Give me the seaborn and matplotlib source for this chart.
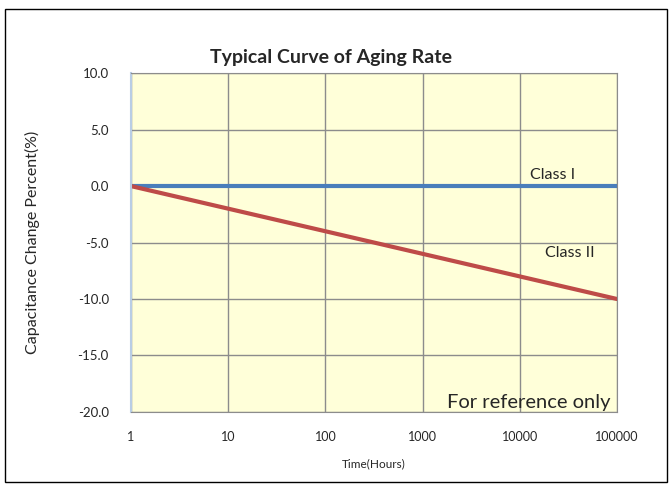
import numpy as np
import pandas as pd
import matplotlib
matplotlib.use("Agg")
import matplotlib.pyplot as plt
import seaborn as sns
from matplotlib.patches import Rectangle

# data
hours = [1, 10, 100, 1000, 10000, 100000]
class_1 = [0.0, 0.0, 0.0, 0.0, 0.0, 0.0]
class_2 = [0.0, -2.0, -4.0, -6.0, -8.0, -10.0]
y_ticks = [-20.0, -15.0, -10.0, -5.0, 0.0, 5.0, 10.0]

df = pd.DataFrame({
    "Time": hours * 2,
    "Change": class_1 + class_2,
    "Class": ["Class I"] * len(hours) + ["Class II"] * len(hours),
})

sns.set_style("white")
plt.rcParams["font.family"] = ["Lato", "DejaVu Sans"]

fig = plt.figure(figsize=(6.72, 4.88), dpi=100)
ax = fig.add_axes([0.195, 0.156, 0.723, 0.694])
ax.set_facecolor("#FFFFD9")

sns.lineplot(data=df, x="Time", y="Change", hue="Class",
             palette={"Class I": "#4A7EBB", "Class II": "#BE4B48"},
             linewidth=3, legend=False, ax=ax)

ax.set_xscale("log")
ax.set_xlim(1, 100000)
ax.set_ylim(-20, 10)
ax.set_xticks(hours)
ax.set_xticklabels([str(h) for h in hours], fontsize=9)
ax.set_yticks(y_ticks)
ax.set_yticklabels([f"{v:.1f}" for v in y_ticks], fontsize=9.5)
ax.minorticks_off()
ax.grid(True, color="#8C8C8C", linewidth=1)
ax.set_axisbelow(True)
for s in ["top", "right", "bottom"]:
    ax.spines[s].set_color("#8C8C8C")
ax.spines["left"].set_color("#B9CDE5")
ax.spines["left"].set_linewidth(1.5)
ax.tick_params(axis="x", length=0, pad=14)
ax.tick_params(axis="y", length=4, color="#B9CDE5", width=1.2, pad=12)

ax.set_xlabel("Time(Hours)", fontsize=8.5, labelpad=11)
ax.set_ylabel("Capacitance Change Percent(%)", fontsize=11.5, labelpad=27)

fig.text(0.493, 0.883, "Typical Curve of Aging Rate", fontsize=14, fontweight="bold",
         ha="center", va="center")

ax.text(1.27e4, 0.4, "Class I", fontsize=11.5, ha="left", va="bottom")
ax.text(1.8e4, -5.9, "Class II", fontsize=11.5, ha="left", va="center")
ax.text(8.5e4, -19.9, "For reference only", fontsize=14.5, ha="right", va="bottom")

fig.patches.append(Rectangle((0.008, 0.012), 0.984, 0.970, transform=fig.transFigure,
                             fill=False, edgecolor="black", linewidth=1))

fig.savefig("out.png", dpi=100)
